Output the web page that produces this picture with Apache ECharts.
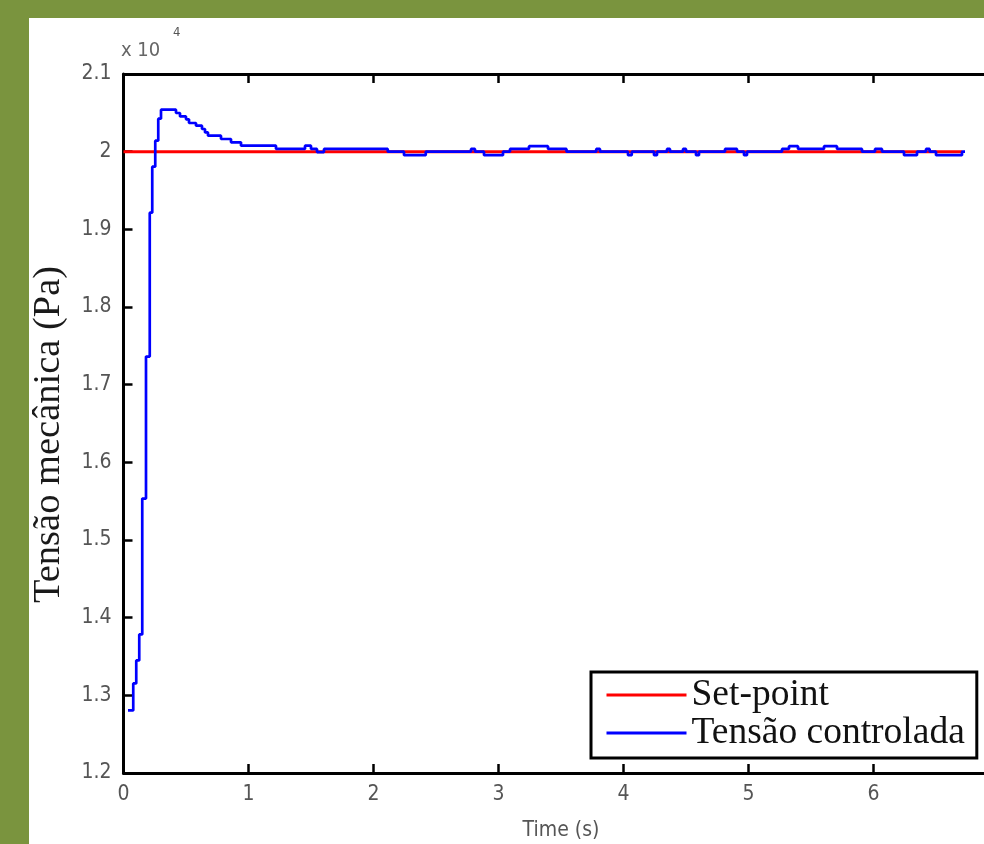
<!DOCTYPE html>
<html>
<head>
<meta charset="utf-8">
<script src="https://cdn.jsdelivr.net/npm/echarts@6/dist/echarts.min.js"></script>
<style>
  html, body { margin: 0; padding: 0; background: #7a943e; overflow: hidden; }
  #panel { position: absolute; left: 29px; top: 18px; width: 955px; height: 826px; background: #fff; }
  #chart { position: absolute; left: 0; top: 0; width: 984px; height: 844px; }
</style>
</head>
<body>
<div id="panel"></div>
<div id="chart"></div>
<script>
// set-point (Pa)
var setpointTime = [0, 6.708];
var setpointValue = [20000, 20000];

// measured tension, sample-and-hold change points: time (s), value (Pa)
var tensionTime = [
  0.036, 0.078, 0.102, 0.126, 0.150, 0.180, 0.210, 0.230, 0.254, 0.278,
  0.300, 0.420, 0.452, 0.500, 0.524, 0.580, 0.628, 0.652, 0.676, 0.780,
  0.860, 0.940, 1.220, 1.452, 1.500, 1.548, 1.604, 2.114, 2.244, 2.418,
  2.780, 2.812, 2.884, 3.036, 3.092, 3.244, 3.396, 3.544, 3.782, 3.812,
  4.036, 4.066, 4.244, 4.268, 4.348, 4.372, 4.476, 4.500, 4.580, 4.604,
  4.812, 4.908, 4.964, 4.988, 5.268, 5.324, 5.396, 5.604, 5.708, 5.908,
  6.012, 6.068, 6.244, 6.348, 6.420, 6.449, 6.500, 6.708, 6.732
];
var tensionValue = [
  12806, 13153, 13449, 13784, 15534, 17362, 19215, 19807, 20142, 20425,
  20541, 20498, 20454, 20416, 20369, 20335, 20292, 20248, 20206, 20163,
  20120, 20077, 20035, 20077, 20035, 19995, 20035, 20000, 19955, 20000,
  20035, 20000, 19955, 20000, 20035, 20071, 20035, 20000, 20035, 20000,
  19955, 20000, 19955, 20000, 20035, 20000, 20035, 20000, 19955, 20000,
  20035, 20000, 19955, 20000, 20035, 20071, 20035, 20071, 20035, 20000,
  20035, 20000, 19955, 20000, 20035, 20000, 19955, 20000, 20000
];

var xTicks = [0, 1, 2, 3, 4, 5, 6, 7];
var yTicks = [12000, 13000, 14000, 15000, 16000, 17000, 18000, 19000, 20000, 21000];

var seriesNames = ['Set-point', 'Tensão controlada'];

function pairs(xs, ys) {
  return xs.map(function (x, i) { return [x, ys[i]]; });
}

var tickFont = "'Liberation Sans Narrow', 'DejaVu Sans Condensed', 'Arial Narrow', sans-serif";
var serifFont = "'Liberation Serif', 'DejaVu Serif', serif";
var black = '#000';

var myChart = echarts.init(document.getElementById('chart'));

var option = {
  backgroundColor: 'transparent',
  animation: false,
  // the plot box runs past the right edge of the picture (x = 7 is cut off)
  grid: { left: 123.5, top: 74, width: 875, height: 699, containLabel: false, outerBoundsMode: 'none' },
  legend: {
    orient: 'vertical',
    left: 591,
    top: 672,
    padding: [4, 12, 6, 14],
    borderColor: black,
    borderWidth: 3,
    backgroundColor: '#fff',
    itemWidth: 80,
    itemHeight: 14,
    itemGap: 0,
    itemStyle: { opacity: 0 },
    lineStyle: { width: 3 },
    textStyle: { fontFamily: serifFont, fontSize: 37.5, lineHeight: 36, color: '#111' },
    data: seriesNames
  },
  xAxis: [{
    type: 'value',
    min: xTicks[0],
    max: xTicks[xTicks.length - 1],
    interval: 1,
    position: 'bottom',
    name: 'Time (s)',
    nameLocation: 'middle',
    nameGap: 47,
    nameTextStyle: { fontFamily: tickFont, fontSize: 21, color: '#555' },
    axisLine: { lineStyle: { color: black, width: 3 } },
    axisTick: { inside: true, length: 9, lineStyle: { color: black, width: 2.5 } },
    axisLabel: {
      margin: 11, fontFamily: tickFont, fontSize: 21, color: '#555',
      formatter: function (v) { return v < 7 ? String(v) : ''; }
    },
    splitLine: { show: false }
  }, {
    type: 'value',
    min: xTicks[0],
    max: xTicks[xTicks.length - 1],
    interval: 1,
    position: 'top',
    axisLine: { lineStyle: { color: black, width: 3 } },
    axisTick: { inside: true, length: 9, lineStyle: { color: black, width: 2.5 } },
    axisLabel: { show: false },
    splitLine: { show: false }
  }],
  yAxis: {
    type: 'value',
    min: yTicks[0],
    max: yTicks[yTicks.length - 1],
    interval: 1000,
    name: 'Tensão mecânica (Pa)',
    nameLocation: 'middle',
    nameGap: 55,
    nameTextStyle: { fontFamily: serifFont, fontSize: 38.5, color: '#1a1a1a', padding: [0, 22, 0, 0] },
    axisLine: { show: true, lineStyle: { color: black, width: 3 } },
    axisTick: { show: true, inside: true, length: 9, lineStyle: { color: black, width: 2.5 } },
    axisLabel: {
      margin: 12, fontFamily: tickFont, fontSize: 21, color: '#555',
      formatter: function (v) { return String(Math.round(v / 100) / 100); }
    },
    splitLine: { show: false }
  },
  graphic: [
    { type: 'text', left: 121, top: 41, style: { text: 'x 10', font: '20px ' + tickFont, fill: '#666' } },
    { type: 'text', left: 173, top: 26, style: { text: '4', font: '13px ' + tickFont, fill: '#555' } }
  ],
  series: [{
    name: seriesNames[0],
    type: 'line',
    symbol: 'none',
    z: 2,
    color: '#ff0000',
    lineStyle: { color: '#ff0000', width: 3 },
    data: pairs(setpointTime, setpointValue)
  }, {
    name: seriesNames[1],
    type: 'line',
    step: 'end',
    symbol: 'none',
    z: 3,
    color: '#0000ff',
    lineStyle: { color: '#0000ff', width: 2.7 },
    data: pairs(tensionTime, tensionValue)
  }]
};

myChart.setOption(option);
</script>
</body>
</html>
